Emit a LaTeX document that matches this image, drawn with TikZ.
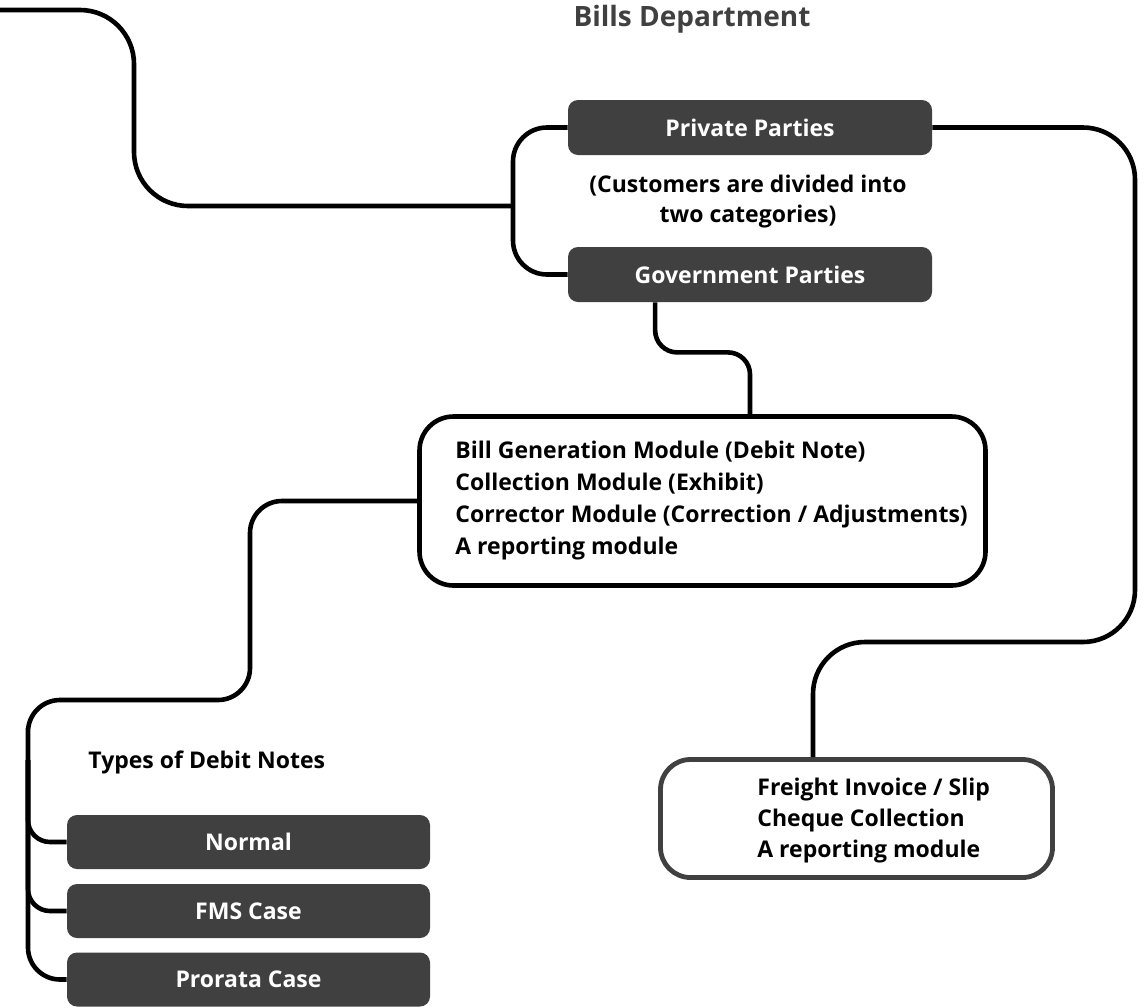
\documentclass[tikz,border=0pt]{standalone}
\usepackage{fontspec}
\setmainfont{Open Sans}
\usetikzlibrary{calc}
\definecolor{boxgray}{HTML}{404040}
\tikzset{
	link/.style={line width=2.3pt, black},
	darkbox/.style={fill=boxgray, rounded corners=5pt, minimum width=181.5pt, minimum height=27pt, text=white, font=\bfseries\fontsize{11.5}{14}\selectfont},
	modbox/.style={draw=black, line width=2.3pt, rounded corners=17pt, minimum width=283pt, minimum height=84.5pt},
	slipbox/.style={draw=boxgray, line width=2.4pt, rounded corners=15pt, minimum width=196pt, minimum height=59pt},
	plaintext/.style={inner sep=0pt, font=\bfseries\fontsize{11.5}{16}\selectfont}
}
\begin{document}
\begin{tikzpicture}[x=0.5pt,y=-0.5pt]
	\useasboundingbox (0,0) rectangle (1145,1007);
	
	\node[anchor=base, inner sep=0pt, text=boxgray, font=\bfseries\fontsize{14}{17}\selectfont] (bills) at (692,26) {Bills Department};
	
	% the two kinds of customers
	\node[darkbox, minimum width=182pt, minimum height=27.5pt] (private) at (750,127.5) {Private Parties};
	\node[plaintext, align=center, font=\bfseries\fontsize{11.5}{15}\selectfont] (customers) at (748,202) {(Customers are divided into\\two categories)};
	\node[darkbox, minimum width=182pt, minimum height=27.5pt] (government) at (750,274.5) {Government Parties};
	
	% module boxes
	\node[modbox] (modules) at (702.5,501) {};
	\node[plaintext, anchor=west, align=left] (modlist) at (455,501) {Bill Generation Module (Debit Note)\\Collection Module (Exhibit)\\Corrector Module (Correction / Adjustments)\\A reporting module};
	
	\node[slipbox] (freight) at (856.5,818.5) {};
	\node[plaintext, anchor=west, align=left, font=\bfseries\fontsize{11.5}{15.5}\selectfont] (sliplist) at (757,821) {Freight Invoice / Slip\\Cheque Collection\\A reporting module};
	
	% debit notes
	\node[plaintext, anchor=west] (types) at (88,762) {Types of Debit Notes};
	\node[darkbox] (normal) at (248.5,842) {Normal};
	\node[darkbox] (fms) at (248.5,911) {FMS Case};
	\node[darkbox] (prorata) at (248.5,979.5) {Prorata Case};
	
	% connectors
	\coordinate (entry) at (0,10);
	\coordinate (drop) at (134,10);
	\coordinate (branch) at (513,206);
	\draw[link, rounded corners=27pt] (entry) -- (drop) |- (branch);
	\draw[link, rounded corners=17pt] (private.west) -| (branch) |- (government.west);
	
	\coordinate (rturn) at (1135,642);
	\coordinate (fturn) at (813,642);
	\draw[link, rounded corners=26pt] (private.east) -| (rturn) -- (fturn) -- (fturn |- freight.north);
	
	\coordinate (gout) at ($(government.south west)!0.24!(government.south east)$);
	\draw[link, rounded corners=11pt] (gout) -- ++(0,50) -| (government.south |- modules.north);
	
	\coordinate (knee) at (250,700);
	\coordinate (spine) at (28,760);
	\draw[link, rounded corners=16pt] (modules.west) -| (knee) -| (spine) |- (prorata.west);
	\draw[link, rounded corners=11pt] (spine) |- (normal.west);
	\draw[link, rounded corners=11pt] (spine) |- (fms.west);
	
\end{tikzpicture}
\end{document}
